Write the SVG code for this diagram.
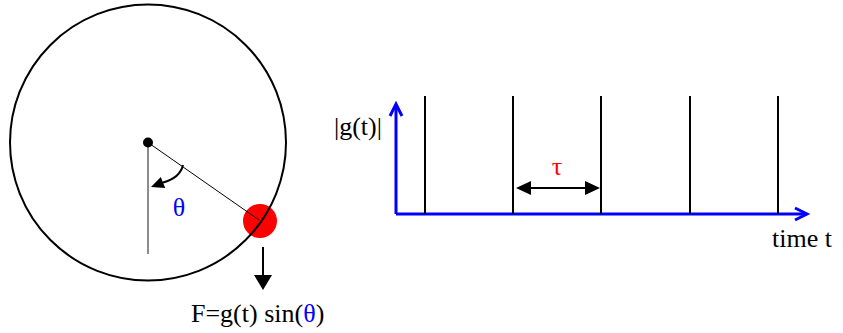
<svg xmlns="http://www.w3.org/2000/svg" width="843" height="333" viewBox="0 0 843 333">
<style>
.blue{fill:#0000ff}
.red{fill:#ff0000}
.axis{stroke:#0000ff;stroke-width:3;fill:none}
.spike{stroke:#000;stroke-width:2}
</style>
<rect width="843" height="333" fill="#fff"/>
<g id="ball">
<circle cx="260" cy="221" r="17" fill="#ff0000"/>
</g>
<g id="wheel">
<circle cx="148" cy="142.5" r="138" fill="none" stroke="#000" stroke-width="2"/>
<line x1="148" y1="142.5" x2="148" y2="254" stroke="#666" stroke-width="1.5"/>
<line x1="148" y1="142.5" x2="259" y2="220" stroke="#000" stroke-width="1"/>
<circle cx="148" cy="142.5" r="5" fill="#000"/>
</g>
<g font-family="Liberation Serif, Times New Roman, DejaVu Serif, serif" font-size="26" fill="#000">
<g id="angle">
<path d="M183,165 Q180,178 163,182.5" fill="none" stroke="#000" stroke-width="2"/>
<polygon points="151,187 160.8,176.9 165.2,188.1" fill="#000"/>
<text x="179" y="216" class="blue" text-anchor="middle">θ</text>
</g>
<g id="force">
<line x1="263" y1="247" x2="263" y2="277" stroke="#000" stroke-width="2"/>
<polygon points="254,275 272,275 263,290" fill="#000"/>
<text x="191" y="322">F=g(t) sin(<tspan class="blue">θ</tspan>)</text>
</g>
<g id="connectors">
<polyline class="axis" points="396,214 396,105"/>
<polyline class="axis" points="390,116 396,104 402,116"/>
<polyline class="axis" points="396,214 806,214"/>
<polyline class="axis" points="795,208 807,214 795,220"/>
<line class="spike" x1="425" y1="96" x2="425" y2="214"/>
<line class="spike" x1="513" y1="96" x2="513" y2="214"/>
<line class="spike" x1="601" y1="96" x2="601" y2="214"/>
<line class="spike" x1="690" y1="96" x2="690" y2="214"/>
<line class="spike" x1="778" y1="96" x2="778" y2="214"/>
<line x1="528" y1="188" x2="587" y2="188" stroke="#000" stroke-width="2"/>
<polygon points="516,188 531,181 531,195" fill="#000"/>
<polygon points="600,188 585,181 585,195" fill="#000"/>
</g>
<g id="labels">
<text x="334" y="135">|g(t)|</text>
<text x="557" y="175" class="red" text-anchor="middle">τ</text>
<text x="772" y="247">time t</text>
</g>
</g>
</svg>
